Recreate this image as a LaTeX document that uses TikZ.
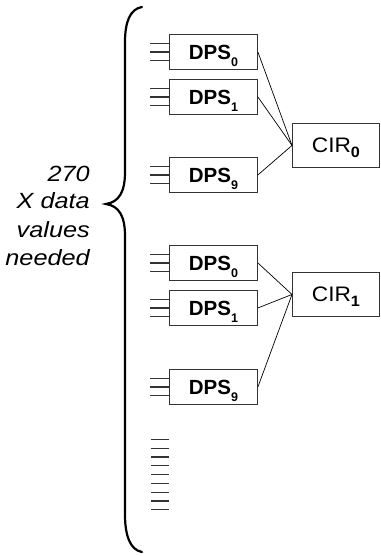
\documentclass[tikz,border=0pt]{standalone}
\usepackage{fontspec}
\setmainfont{Liberation Sans}
\newfontfamily\sidefont[FakeStretch=1.15]{Liberation Sans}
\newfontfamily\cirfont[FakeStretch=1.08]{Liberation Sans}
\begin{document}
\begin{tikzpicture}[x=1pt,y=-1pt,
  dpsbox/.style={draw=black!80, line width=0.9pt, minimum width=88pt, minimum height=35pt,
    inner sep=0pt, anchor=north west, text height=14.6pt, text depth=0pt,
    font=\fontsize{20.5}{22}\selectfont\bfseries},
  cirbox/.style={draw=black!80, line width=0.9pt, minimum width=87pt, minimum height=44pt,
    inner sep=0pt, anchor=north west, text height=13.4pt, text depth=0pt,
    font=\cirfont\fontsize{21}{22}\selectfont},
  sidetext/.style={anchor=base east, inner sep=0pt,
    font=\sidefont\itshape\fontsize{22}{24}\selectfont},
  wire/.style={line width=0.7pt, black},
  stub/.style={line width=1.2pt, black!80},
  brace/.style={line width=2.2pt, black, line cap=round}]
\useasboundingbox (0,0) rectangle (380,556);

\newcommand{\dpslabel}[1]{DPS\raisebox{-7pt}{\fontsize{12.5}{12.5}\selectfont\bfseries #1}}
\newcommand{\cirlabel}[1]{CIR\raisebox{-5.5pt}{\fontsize{15}{15}\selectfont\bfseries #1}}

% first group
\node[dpsbox] (a0) at (169,34)  {\dpslabel{0}};
\node[dpsbox] (a1) at (169,79)  {\dpslabel{1}};
\node[dpsbox] (a9) at (169,157) {\dpslabel{9}};
\node[cirbox] (c0) at (292,123) {\cirlabel{0}};

% second group
\node[dpsbox] (b0) at (169,245) {\dpslabel{0}};
\node[dpsbox] (b1) at (169,290) {\dpslabel{1}};
\node[dpsbox] (b9) at (169,369) {\dpslabel{9}};
\node[cirbox] (c1) at (292,272) {\cirlabel{1}};

% connections into the CIR blocks
\foreach \s in {a0,a1,a9} \draw[wire] (\s.east) -- (c0.west);
\foreach \s in {b0,b1,b9} \draw[wire] (\s.east) -- (c1.west);

% three data inputs on each DPS block
\foreach \s in {a0,a1,a9,b0,b1,b9}
  \foreach \dy in {-8.5,0,8.5}
    \draw[stub] ([xshift=-19pt,yshift=\dy pt]\s.west) -- ([yshift=\dy pt]\s.west);

% remaining inputs
\foreach \i in {0,...,8}
  \draw[stub] (151,{439.3+8.8*\i}) -- (169,{439.3+8.8*\i});

% curly brace
\draw[brace] (142,7) .. controls (130,9) and (125,22) .. (125,42)
  -- (125,172) .. controls (125,192) and (119,202) .. (106,204)
  .. controls (119,206) and (125,216) .. (125,236)
  -- (125,515) .. controls (125,535) and (130,550) .. (142,552);

% side label
\node[sidetext] (t1) at (90,181)   {270};
\node[sidetext] (t2) at (90,208.5) {X data};
\node[sidetext] (t3) at (90,237)   {values};
\node[sidetext] (t4) at (90,265.5) {needed};
\end{tikzpicture}
\end{document}
